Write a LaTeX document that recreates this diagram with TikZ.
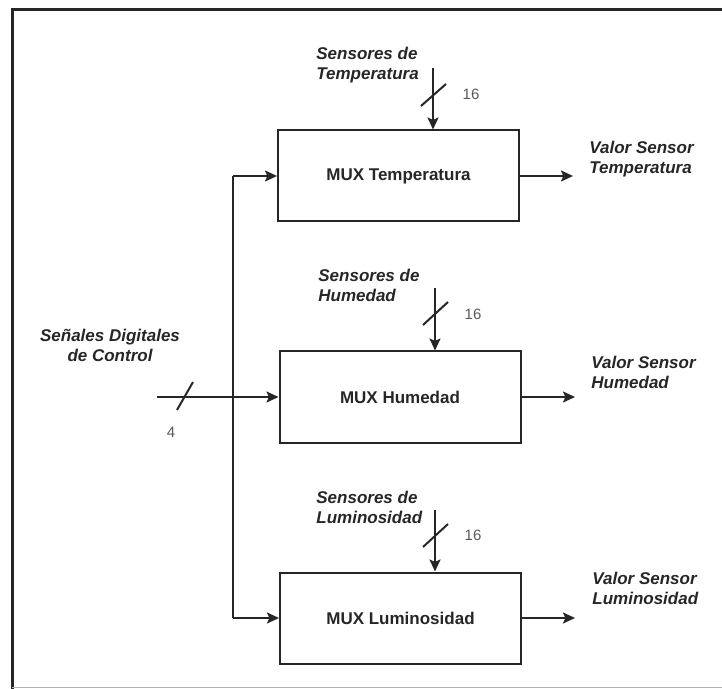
\documentclass[tikz,border=0pt]{standalone}
\usepackage{fontspec}
\setmainfont{Liberation Sans}
\usetikzlibrary{arrows.meta}
\begin{document}
\begin{tikzpicture}[x=0.5pt,y=-0.5pt,
  muxbox/.style={draw=black!85, line width=1pt, minimum width=120.5pt, minimum height=45.5pt,
    font=\fontsize{8.5}{10}\selectfont\bfseries, text=black!85, inner sep=0pt},
  lbl/.style={font=\fontsize{8.5}{10}\selectfont\bfseries\itshape, text=black!85, align=left, inner sep=0pt},
  num/.style={font=\fontsize{7.5}{9}\selectfont, text=black!65, inner sep=0pt},
  wire/.style={draw=black!85, line width=1pt},
  arr/.style={wire, -{Stealth[length=6pt,width=5.5pt,inset=1.2pt]}},
  slashline/.style={draw=black!85, line width=1pt}]
\useasboundingbox (0,0) rectangle (722,689);
% frame
\draw[black!85, line width=1.5pt] (722,9.5) -- (12,9.5) -- (12,689);
\draw[black!30, line width=0.6pt] (12,687.5) -- (722,687.5);

% boxes
\node[muxbox] (mt) at (398.5,176) {MUX Temperatura};
\node[muxbox] (mh) at (400,397) {MUX Humedad};
\node[muxbox] (ml) at (400.5,618) {MUX Luminosidad};

% sensor inputs
\coordinate (tin) at (433,68);
\coordinate (hin) at (435,288);
\coordinate (lin) at (435,510);
\draw[arr] (tin) -- (tin |- mt.north);
\draw[arr] (hin) -- (hin |- mh.north);
\draw[arr] (lin) -- (lin |- ml.north);
\draw[slashline] (421,106) -- (446,84);
\draw[slashline] (423,325) -- (448,302);
\draw[slashline] (423,547) -- (448,524);
\node[num] (nt) at (471,94) {16};
\node[num] (nh) at (473,314) {16};
\node[num] (nl) at (473,535) {16};

\node[lbl, anchor=west] (st) at (316,65) {Sensores de\\Temperatura};
\node[lbl, anchor=west] (sh) at (318,285) {Sensores de\\Humedad};
\node[lbl, anchor=west] (sl) at (316,507) {Sensores de\\Luminosidad};

% control bus
\coordinate (bt) at (233,176);
\coordinate (bb) at (233,618);
\coordinate (cin) at (157,397);
\draw[wire] (bt) -- (bb);
\draw[arr] (bt) -- (mt.west);
\draw[arr] (bb) -- (ml.west);
\draw[arr] (cin) -- (mh.west);
\draw[slashline] (177,410) -- (193,382);
\node[num] (n4) at (171,432) {4};
\node[lbl, align=center] (ctl) at (110,345) {Señales Digitales\\de Control};

% outputs
\coordinate (ot) at (573,176);
\coordinate (oh) at (575,397);
\coordinate (ol) at (575,618);
\draw[arr] (mt.east) -- (ot);
\draw[arr] (mh.east) -- (oh);
\draw[arr] (ml.east) -- (ol);
\node[lbl, anchor=west] (vt) at (589,159) {Valor Sensor\\Temperatura};
\node[lbl, anchor=west] (vh) at (591,372) {Valor Sensor\\Humedad};
\node[lbl, anchor=west] (vl) at (592,588) {Valor Sensor\\Luminosidad};
\end{tikzpicture}
\end{document}
